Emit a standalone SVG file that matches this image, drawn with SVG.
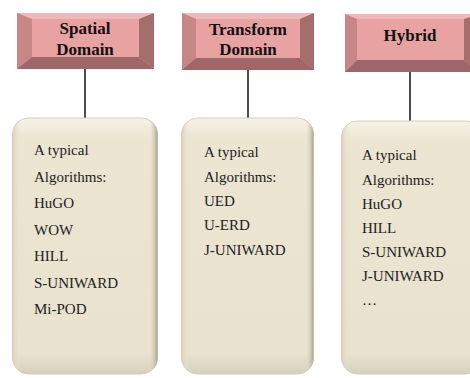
<svg xmlns="http://www.w3.org/2000/svg" width="470" height="378" viewBox="0 0 470 378">
<defs>
<linearGradient id="bodyG" x1="0" y1="0" x2="0" y2="1">
<stop offset="0" stop-color="#f6f3e6"/>
<stop offset="0.08" stop-color="#ebe5d1"/>
<stop offset="0.92" stop-color="#e8e2ce"/>
<stop offset="1" stop-color="#d6d0bc"/>
</linearGradient>
<linearGradient id="edgeG" x1="0" y1="0" x2="1" y2="0">
<stop offset="0" stop-color="#d8d2be"/>
<stop offset="0.06" stop-color="#ebe5d1" stop-opacity="0"/>
<stop offset="0.94" stop-color="#ebe5d1" stop-opacity="0"/>
<stop offset="1" stop-color="#a9a492"/>
</linearGradient>
<style>
.face{fill:#e8a2a2}
.top{fill:#f0b9b9}
.left{fill:#c78787}
.right{fill:#a66d6d}
.bot{fill:#9e6868}
.hd{font-family:"Liberation Serif","Times New Roman",serif;font-weight:bold;font-size:17px;fill:#111;text-anchor:middle}
.tx{font-family:"Liberation Serif","Times New Roman",serif;font-size:15px;fill:#222}
.body{fill:url(#bodyG);stroke:#d3cdb9;stroke-width:1}
.edge{fill:url(#edgeG)}
.conn{stroke:#111;stroke-width:1.5;fill:none}
</style>
</defs>
<g id="connectors">
<line class="conn" x1="85" y1="69" x2="85" y2="118"/>
<line class="conn" x1="248" y1="70" x2="248" y2="118"/>
<line class="conn" x1="410" y1="72" x2="410" y2="121"/>
</g>
<g id="spatial-header">
<rect class="face" x="17" y="13" width="137" height="56"/>
<polygon class="top" points="17,13 154,13 139,19 32,19"/>
<polygon class="left" points="17,13 32,19 32,57 17,69"/>
<polygon class="right" points="154,13 154,69 139,57 139,19"/>
<polygon class="bot" points="17,69 32,57 139,57 154,69"/>
<text class="hd" x="85" y="34">Spatial</text>
<text class="hd" x="85" y="55">Domain</text>
</g>
<g id="transform-header">
<rect class="face" x="182" y="13" width="132" height="57"/>
<polygon class="top" points="182,13 314,13 300,19 196,19"/>
<polygon class="left" points="182,13 196,19 196,58 182,70"/>
<polygon class="right" points="314,13 314,70 300,58 300,19"/>
<polygon class="bot" points="182,70 196,58 300,58 314,70"/>
<text class="hd" x="248" y="35">Transform</text>
<text class="hd" x="248" y="55">Domain</text>
</g>
<g id="hybrid-header">
<rect class="face" x="345" y="14" width="135" height="58"/>
<polygon class="top" points="345,14 480,14 464,19 357,19"/>
<polygon class="left" points="345,14 357,19 357,60 345,72"/>
<polygon class="right" points="480,14 480,72 464,60 464,19"/>
<polygon class="bot" points="345,72 357,60 464,60 480,72"/>
<text class="hd" x="410" y="41">Hybrid</text>
</g>
<g id="spatial-body">
<rect class="body" x="12.5" y="118" width="145" height="256" rx="16"/>
<rect class="edge" x="12.5" y="118" width="145" height="256" rx="16"/>
<text class="tx" x="34" y="155">A typical</text>
<text class="tx" x="34" y="181.5">Algorithms:</text>
<text class="tx" x="34" y="208">HuGO</text>
<text class="tx" x="34" y="234.5">WOW</text>
<text class="tx" x="34" y="261">HILL</text>
<text class="tx" x="34" y="287.5">S-UNIWARD</text>
<text class="tx" x="34" y="314">Mi-POD</text>
</g>
<g id="transform-body">
<rect class="body" x="181.5" y="118" width="132" height="256" rx="16"/>
<rect class="edge" x="181.5" y="118" width="132" height="256" rx="16"/>
<text class="tx" x="204" y="157">A typical</text>
<text class="tx" x="204" y="182">Algorithms:</text>
<text class="tx" x="204" y="206">UED</text>
<text class="tx" x="204" y="230">U-ERD</text>
<text class="tx" x="204" y="255">J-UNIWARD</text>
</g>
<g id="hybrid-body">
<rect class="body" x="341.5" y="121" width="140" height="253" rx="16"/>
<rect class="edge" x="341.5" y="121" width="140" height="253" rx="16"/>
<text class="tx" x="362" y="160">A typical</text>
<text class="tx" x="362" y="185">Algorithms:</text>
<text class="tx" x="362" y="209">HuGO</text>
<text class="tx" x="362" y="233">HILL</text>
<text class="tx" x="362" y="257">S-UNIWARD</text>
<text class="tx" x="362" y="281">J-UNIWARD</text>
<text class="tx" x="362" y="305">…</text>
</g>
</svg>
